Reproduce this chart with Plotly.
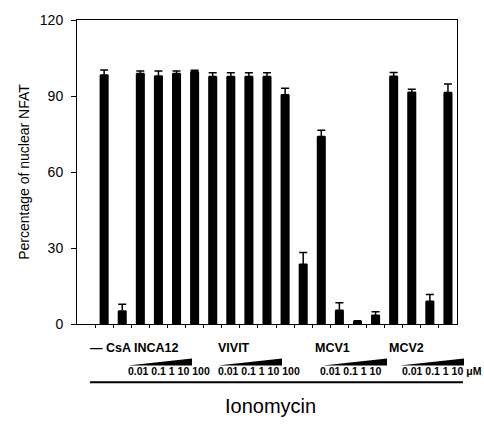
import plotly.graph_objects as go

# ---- data ----
conditions = ["—", "CsA",
              "INCA12 0.01", "INCA12 0.1", "INCA12 1", "INCA12 10", "INCA12 100",
              "VIVIT 0.01", "VIVIT 0.1", "VIVIT 1", "VIVIT 10", "VIVIT 100",
              "MCV1 0.01", "MCV1 0.1", "MCV1 1", "MCV1 10",
              "MCV2 0.01", "MCV2 0.1", "MCV2 1", "MCV2 10"]
nuclear_nfat = [98.3, 5.1,
                98.9, 97.9, 98.9, 99.6, 97.7,
                97.7, 97.7, 97.7, 90.5, 23.6,
                74.0, 5.4, 1.0, 3.5,
                97.8, 91.5, 9.0, 91.4]
sem = [2.0, 2.7,
       1.0, 2.0, 1.0, 0.6, 1.5,
       1.5, 1.5, 1.5, 2.6, 4.6,
       2.5, 3.0, 0.3, 1.3,
       1.5, 1.2, 2.6, 3.3]
y_ticks = [0, 30, 60, 90, 120]
group_labels = ["— CsA INCA12", "VIVIT", "MCV1", "MCV2"]
conc_labels = ["0.01 0.1 1 10 100", "0.01 0.1 1 10 100", "0.01 0.1 1 10", "0.01 0.1 1 10 μM"]
stimulus_label = "Ionomycin"
y_title = "Percentage of nuclear NFAT"

FONT = "Liberation Sans, Arial, sans-serif"
W, H = 484, 424
L, R, T, B = 77, 457, 16, 324

def px_x(p):
    return (p - L) / (R - L)

def px_y(p):
    return (B - p) / (B - T)

x_idx = list(range(len(conditions)))

fig = go.Figure()
fig.add_trace(go.Bar(
    x=x_idx, y=nuclear_nfat, width=0.5,
    marker=dict(color="black", line=dict(width=0)),
    error_y=dict(type="data", array=sem, arrayminus=[0] * len(sem), symmetric=False,
                 color="black", thickness=1.5, width=4),
    hovertext=conditions,
))

annotations = []
# group labels
group_pos = [88, 216, 313, 387]
for lab, px in zip(group_labels, group_pos):
    annotations.append(dict(text=f"<b>{lab}</b>", x=px_x(px), y=px_y(348), xref="paper", yref="paper",
                            xanchor="left", yanchor="middle", showarrow=False,
                            font=dict(family=FONT, size=12.5, color="black")))
# concentration labels
conc_pos = [126, 216, 318, 400]
for lab, px in zip(conc_labels, conc_pos):
    annotations.append(dict(text=f"<b>{lab}</b>", x=px_x(px), y=px_y(372), xref="paper", yref="paper",
                            xanchor="left", yanchor="middle", showarrow=False,
                            font=dict(family=FONT, size=10.5, color="black")))
annotations.append(dict(text=stimulus_label, x=px_x(270), y=px_y(407), xref="paper", yref="paper",
                        xanchor="center", yanchor="middle", showarrow=False,
                        font=dict(family=FONT, size=20, color="black")))

shapes = []
wedges = [(128, 192), (218, 282), (323, 387), (400, 464)]
for x0, x1 in wedges:
    path = (f"M {px_x(x0)},{px_y(366)} L {px_x(x1)},{px_y(366)} "
            f"L {px_x(x1)},{px_y(359)} Z")
    shapes.append(dict(type="path", path=path, xref="paper", yref="paper",
                       fillcolor="black", line=dict(width=0)))
shapes.append(dict(type="line", x0=px_x(90), x1=px_x(463), y0=px_y(383), y1=px_y(383),
                   xref="paper", yref="paper", line=dict(color="black", width=2)))

fig.update_layout(
    width=W, height=H,
    margin=dict(l=L, r=W - R, t=T, b=H - B),
    paper_bgcolor="white", plot_bgcolor="white",
    showlegend=False,
    font=dict(family=FONT, color="black"),
    annotations=annotations, shapes=shapes,
    xaxis=dict(range=[-1.5, len(conditions) - 0.5], showgrid=False, zeroline=False,
               showline=True, linecolor="black", linewidth=1, mirror=True,
               tickmode="array", tickvals=[i - 0.5 for i in x_idx], ticks="outside",
               ticklen=3, tickcolor="black", showticklabels=False),
    yaxis=dict(range=[0, 120], showgrid=False, zeroline=False,
               showline=True, linecolor="black", linewidth=1, mirror=True,
               tickmode="array", tickvals=y_ticks, ticks="outside", ticklen=5,
               tickcolor="black", tickfont=dict(family=FONT, size=14, color="black"),
               ticklabelstandoff=5,
               title=dict(text=y_title, font=dict(family=FONT, size=14, color="black"), standoff=6)),
)

fig.write_html("out.html", config={"displayModeBar": False},
               post_script="document.body.style.margin='0';document.body.style.padding='0';")
